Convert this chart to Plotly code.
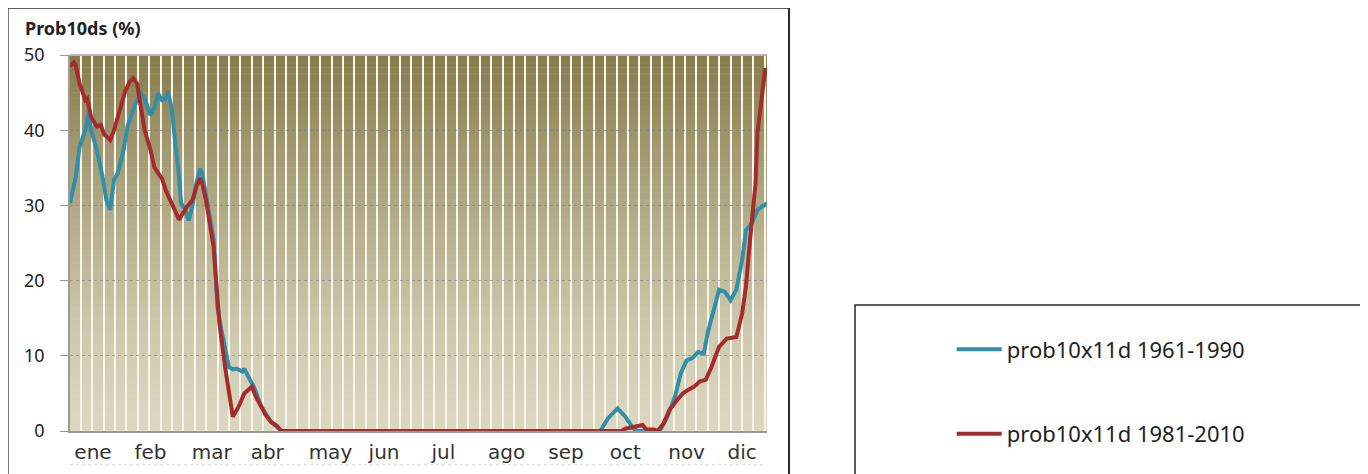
import plotly.graph_objects as go

# ---- data (day of year, probability %) ----
blue_days = [1, 4, 6, 9, 11, 12, 15, 18, 20, 22, 24, 26, 29, 31, 35, 38, 40, 43, 45, 47, 49, 51, 52, 54, 56, 58, 59,
             61, 63, 65, 67, 69, 70, 72, 74, 76, 77, 78, 80, 82, 84, 86, 88, 91, 92, 95, 97, 101, 106, 111, 112,
             278, 282, 287, 291, 295, 297, 309, 313, 317, 320, 323, 326, 329, 332, 334, 337, 340, 343, 346, 349,
             352, 354, 357, 360, 362, 365]
blue_vals = [30.3, 33.8, 37.8, 40.0, 42.7, 40.0, 37.4, 33.8, 30.7, 29.4, 33.4, 34.3, 37.4, 40.5, 43.4, 44.9, 44.2, 42.0,
             42.9, 44.9, 44.0, 44.2, 45.2, 43.1, 38.3, 33.8, 30.3,
             29.5, 28.0, 30.0, 33.0, 34.9, 34.2, 31.6, 28.5, 25.4, 20.5, 16.5, 13.5, 10.8, 8.5, 8.2, 8.3, 7.9, 8.3,
             6.8, 5.9, 3.2, 1.2, 0.1, 0.0,
             0.0, 1.7, 3.0, 1.9, 0.4, 0.0, 0.0, 1.9, 4.6, 7.7, 9.4, 9.7, 10.5, 10.3, 13.0, 16.1, 18.8, 18.5, 17.4, 18.8,
             22.7, 26.7, 27.6, 29.4, 29.8, 30.3]

red_days = [1, 3, 4, 6, 9, 10, 12, 15, 17, 19, 22, 24, 26, 28, 30, 32, 34, 36, 38, 40, 43, 45, 47, 49, 51, 54, 57,
            58, 60, 62, 65, 67, 69, 70, 72, 74, 76, 77, 79, 82, 85, 86, 89, 92, 96, 98, 101, 103, 106, 109, 111, 112,
            289, 291, 300, 302, 306, 308, 311, 314, 318, 321, 324, 327, 330, 333, 336, 340, 344, 347, 349, 352, 354,
            356, 359, 360, 362, 364, 365]
red_vals = [48.5, 49.0, 48.6, 46.2, 44.0, 44.2, 41.8, 40.5, 40.7, 39.4, 38.7, 40.0, 41.8, 43.5, 45.3, 46.4, 46.9, 46.2,
            42.7, 40.0, 37.4, 35.1, 34.3, 33.6, 32.0, 30.3, 28.9,
            28.1, 29.0, 29.8, 30.7, 32.5, 33.6, 33.0, 30.7, 27.5, 24.5, 21.0, 14.4, 8.5, 4.1, 1.9, 3.2, 5.0, 5.9, 4.6,
            3.2, 2.2, 1.2, 0.7, 0.1, 0.0,
            0.0, 0.3, 0.8, 0.2, 0.2, 0.0, 1.0, 2.8, 4.1, 5.0, 5.5, 5.9, 6.6, 6.8, 8.5, 11.2, 12.3, 12.5, 12.5, 15.6, 19.2,
            25.0, 32.9, 39.6, 44.0, 48.0, 48.0]

month_days = [13, 43, 75, 104, 137, 165, 196, 229, 260, 291, 323, 352]
month_labels = ["ene", "feb", "mar", "abr", "may", "jun", "jul", "ago", "sep", "oct", "nov", "dic"]
y_ticks = [0, 10, 20, 30, 40, 50]

series_names = ["prob10x11d 1961-1990", "prob10x11d 1981-2010"]
BLUE = "#318fa9"
RED = "#a52b2c"

fig = go.Figure()
fig.add_trace(go.Scatter(x=blue_days, y=blue_vals, mode="lines", name=series_names[0],
                         line=dict(color=BLUE, width=4), legendgroup="a"))
fig.add_trace(go.Scatter(x=red_days, y=red_vals, mode="lines", name=series_names[1],
                         line=dict(color=RED, width=4), legendgroup="b"))

# gradient background of the plot area
shapes = []
n_bands = 60
top = (134, 123, 74)
bot = (220, 215, 193)
for i in range(n_bands):
    y0 = 50 * i / n_bands
    y1 = 50 * (i + 1) / n_bands
    t = ((i + 0.5) / n_bands) ** 1.35
    c = tuple(int(round(bot[k] + (top[k] - bot[k]) * t)) for k in range(3))
    shapes.append(dict(type="rect", xref="paper", yref="y", x0=0, x1=1, y0=y0, y1=y1 + 0.05,
                       fillcolor="rgb(%d,%d,%d)" % c, line=dict(width=0), layer="below"))

# top border of plot area
shapes.append(dict(type="line", xref="paper", yref="paper", x0=0, x1=1, y0=1, y1=1,
                   line=dict(color="#b4b4c4", width=2), layer="above"))
# outer chart frame
shapes.append(dict(type="rect", xref="paper", yref="paper", x0=-0.0895, x1=1.0316, y0=-0.2, y1=1.1255,
                   line=dict(color="#2a2a2a", width=2), fillcolor="rgba(0,0,0,0)", layer="above"))
# legend frame
shapes.append(dict(type="rect", xref="paper", yref="paper", x0=1.1263, x1=1.853, y0=-0.2, y1=0.335,
                   line=dict(color="#2a2a2a", width=1.5), fillcolor="rgba(0,0,0,0)", layer="above"))
# faint dotted line under the month labels
shapes.append(dict(type="line", xref="paper", yref="paper", x0=0, x1=0.995, y0=-0.09, y1=-0.09,
                   line=dict(color="#d0d0d0", width=1, dash="dot"), layer="above"))

fig.update_layout(
    width=1360, height=466,
    margin=dict(l=62, r=601, t=47, b=43, autoexpand=False),
    paper_bgcolor="white",
    plot_bgcolor="rgb(200,192,160)",
    shapes=shapes,
    showlegend=True,
    legend=dict(x=1.265, xanchor="left", y=0.273, yanchor="top",
                font=dict(family="Noto Sans", size=22, color="#222"),
                tracegroupgap=53, itemwidth=45, bgcolor="rgba(0,0,0,0)",
                borderwidth=0),
    annotations=[dict(text="<b>Prob10ds (%)</b>", xref="paper", yref="paper",
                      x=-0.067, y=1.072, xanchor="left", yanchor="middle", showarrow=False,
                      font=dict(family="Noto Sans", size=18, color="#222"))],
)

fig.update_xaxes(
    range=[1, 365], tickmode="array", tickvals=month_days, ticktext=month_labels,
    showgrid=False, zeroline=False, ticks="", ticklabelstandoff=2,
    tickfont=dict(family="DejaVu Sans", size=20, color="#333"),
    showline=True, linecolor="#9a9a9a", linewidth=2,
    minor=dict(tick0=6.6, dtick=5.955, showgrid=True, gridcolor="#f8f5ea", gridwidth=2, ticks=""),
    fixedrange=True,
)
fig.update_yaxes(
    range=[0, 50], tickmode="array", tickvals=y_ticks, ticktext=[str(v) for v in y_ticks],
    showgrid=True, gridcolor="rgba(120,120,120,0.55)", gridwidth=1, griddash="dot",
    zeroline=False, ticks="outside", ticklen=8, tickcolor="#9a9a9a", ticklabelstandoff=12,
    tickfont=dict(family="Noto Sans", size=18, color="#222"),
    showline=True, linecolor="#9a9a9a", linewidth=1.5,
    fixedrange=True,
)

fig.write_html("out.html")
